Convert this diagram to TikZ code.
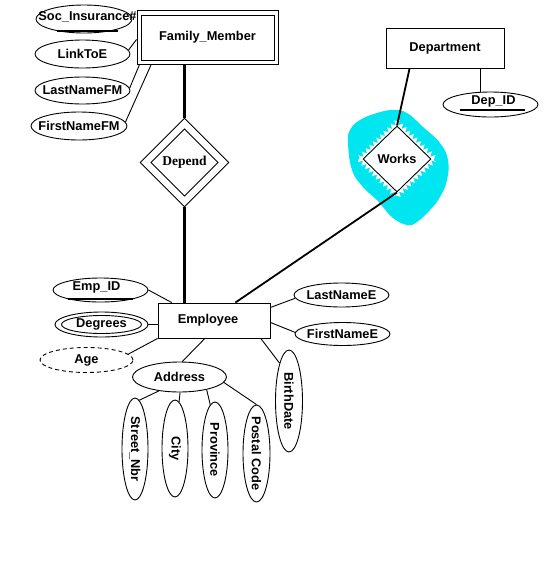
\documentclass[tikz,border=0pt]{standalone}
\usepackage{fontspec}
\setmainfont{Liberation Sans}
\newfontfamily\serifb{Liberation Serif}
\usetikzlibrary{shapes.geometric,decorations.pathmorphing}
\definecolor{blobcyan}{RGB}{0,230,240}
\newcommand\ztxt[1]{\makebox[0pt]{#1}}
\begin{document}
\begin{tikzpicture}[x=1pt,y=-1pt,
  every node/.style={font=\fontsize{12.8}{15}\selectfont\bfseries, inner sep=0pt},
  ln/.style={line width=0.9pt},
  attr/.style={ellipse, draw, line width=0.9pt},
  ent/.style={rectangle, draw, line width=0.9pt},
  rel/.style={diamond, draw, line width=0.9pt, aspect=1},
  keyline/.style={line width=2pt},
  thickln/.style={line width=3pt},
  midln/.style={line width=1.8pt}]
\useasboundingbox[fill=white] (0,0) rectangle (547,579);

% cyan highlight around Works
\fill[blobcyan] plot[smooth cycle, tension=0.7] coordinates {(393,110) (407,113) (423,127) (440,143) (448,160) (447,180) (440,197) (430,210) (417,222) (407,225) (393,218) (383,207) (377,200) (363,187) (352,170) (348,143) (350,130) (360,120) (377,113)};
\fill[white, decorate, decoration={zigzag, segment length=5pt, amplitude=2.5pt}] (397,121) -- (436,159) -- (397,197) -- (358,159) -- cycle;

% entities
\node[ent, minimum width=141, minimum height=54] (fm) at (207.5,37) {Family\_Member};
\draw[ln] ([shift={(5pt,4.5pt)}]fm.south west) rectangle ([shift={(-4pt,-6pt)}]fm.north east);
\node[ent, minimum width=118, minimum height=40] (dept) at (445,48) {Department};
\node[ent, minimum width=112, minimum height=35] (emp) at (214,320.5) {Employee\hspace*{12pt}};

% relationships
\node[rel, minimum width=89, minimum height=89, font=\fontsize{13.5}{16}\selectfont\serifb\bfseries] (dep) at (184.5,162.5) {Depend};
\draw[ln] ([yshift=-11.5pt]dep.north) -- ([xshift=-11.5pt]dep.east) -- ([yshift=11.5pt]dep.south) -- ([xshift=11.5pt]dep.west) -- cycle;
\node[rel, fill=white, minimum width=68, minimum height=66] (works) at (397,159) {Works};

% attributes of Family_Member
\node[attr, minimum width=96, minimum height=28, label={[xshift=3.5pt,yshift=2pt]center:Soc\_Insurance\#}] (soc) at (84,19) {};
\draw[keyline] ([xshift=-27pt,yshift=-11.5pt]soc.center) -- ([xshift=34pt,yshift=-11.5pt]soc.center);
\node[attr, minimum width=95, minimum height=28] (linkto) at (82.5,54) {\ztxt{LinkToE}};
\node[attr, minimum width=95, minimum height=27] (lastfm) at (82.5,90.5) {\ztxt{LastNameFM}};
\node[attr, minimum width=96, minimum height=28] (firstfm) at (79,126) {\ztxt{FirstNameFM}};

% attribute of Department
\node[attr, minimum width=95, minimum height=25, label={[xshift=3pt,yshift=3pt]center:Dep\_ID}] (depid) at (490.5,104.5) {};
\draw[keyline] ([xshift=-30.5pt,yshift=-5.5pt]depid.center) -- ([xshift=34.5pt,yshift=-5.5pt]depid.center);

% attributes of Employee
\node[attr, minimum width=95, minimum height=24, label={[xshift=-4pt,yshift=2.5pt]center:Emp\_ID}] (empid) at (100.5,290) {};
\draw[keyline] ([xshift=-32.5pt,yshift=-9pt]empid.center) -- ([xshift=32.5pt,yshift=-9pt]empid.center);
\node[attr, minimum width=93, minimum height=25] (deg) at (101.5,324.5) {\ztxt{Degrees}};
\draw[ln] (deg.center) ellipse [x radius=40pt, y radius=9pt];
\node[attr, dash pattern=on 4pt off 3pt, minimum width=93, minimum height=25] (age) at (86.5,360) {\ztxt{Age}};
\node[attr, minimum width=95, minimum height=24] (lastE) at (341.5,295) {\ztxt{LastNameE}};
\node[attr, minimum width=95, minimum height=23] (firstE) at (342.5,334) {\ztxt{FirstNameE}};
\node[attr, minimum width=94, minimum height=30] (addr) at (179.5,377) {\ztxt{Address}};
\node[attr, rotate=-90, minimum width=102, minimum height=27] (bd) at (289,401) {\ztxt{BirthDate}};
\node[attr, rotate=-90, minimum width=102, minimum height=26] (st) at (135,449) {\ztxt{Street\_Nbr}};
\node[attr, rotate=-90, minimum width=97, minimum height=26] (city) at (175,448.5) {\ztxt{City}};
\node[attr, rotate=-90, minimum width=96, minimum height=26] (prov) at (215,450) {\ztxt{Province}};
\node[attr, rotate=-90, minimum width=97, minimum height=27] (postal) at (256.5,453.5) {\ztxt{Postal Code}};

% connectors
\draw[ln] (linkto.5) -- (fm.182);
\draw[ln] (lastfm.3) -- (fm.202);
\draw[ln] (firstfm.5) -- (fm.206);
\draw[thickln] (dep.north |- fm.south) -- (dep.north);
\draw[thickln] (dep.south) -- (dep.south |- emp.north);
\draw[midln] (dept.210) -- (works.north);
\draw[midln] (works.south) -- (emp.40);
\draw[ln] (dept.-30) -- (dept.-30 |- depid.north);
\draw[ln] (empid.east) -- (emp.157);
\draw[ln] (deg.east) -- (deg.east -| emp.west);
\draw[ln] (age.8) -- (emp.south west);
\draw[ln] (lastE.184) -- (emp.13);
\draw[ln] (firstE.178) -- (emp.-2);
\draw[ln] (emp.243) -- (addr.80);
\draw[ln] (emp.-21) -- (bd.194);
\draw[ln] (addr.214) -- (st.175);
\draw[ln] (addr.-88) -- (city.175);
\draw[ln] (addr.-25) -- (prov.186);
\draw[ln] (addr.-7) -- (postal.west);
\end{tikzpicture}
\end{document}
